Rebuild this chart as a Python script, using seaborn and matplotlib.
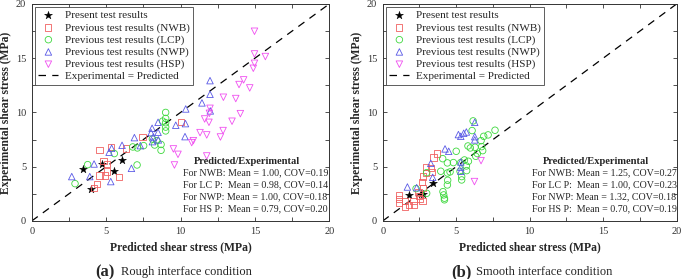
import numpy as np
import pandas as pd
import matplotlib
matplotlib.use("Agg")
import matplotlib.pyplot as plt
import seaborn as sns

# (a) rough interface: predicted (x) vs experimental (y), MPa
rough_present_x = [3.47, 4.70, 6.09, 5.55, 3.96]
rough_present_y = [4.76, 5.22, 5.59, 4.61, 2.95]
rough_nwb_x = [4.55, 5.35, 6.32, 7.44, 10.01, 4.82, 5.08, 5.04, 4.55, 4.93, 5.87, 4.41, 4.21]
rough_nwb_y = [6.54, 6.82, 6.67, 7.74, 9.12, 5.53, 5.25, 4.55, 4.18, 4.18, 4.06, 3.41, 3.07]
rough_lcp_x = [3.76, 2.91, 5.55, 7.08, 6.79, 7.10, 7.52, 8.26, 8.69, 8.69, 8.40, 8.11,
               9.00, 9.00, 9.00, 9.00, 9.00, 8.80]
rough_lcp_y = [5.19, 3.44, 6.21, 5.16, 6.82, 6.73, 6.94, 7.00, 6.51, 7.05, 7.40, 7.55,
               10.0, 9.45, 9.05, 8.65, 8.30, 9.20]
rough_nwp_x = [2.69, 3.90, 4.19, 5.31, 5.20, 5.37, 6.07, 6.70, 6.90, 7.30, 8.02, 8.09,
               8.49, 8.49, 8.51, 8.11, 9.68, 10.33, 10.30, 10.35, 11.44, 11.98, 11.98, 12.00, 8.17]
rough_nwp_y = [4.09, 4.09, 5.25, 3.63, 6.33, 6.70, 6.97, 4.85, 7.68, 6.94, 8.14, 8.54,
               9.09, 8.17, 7.47, 7.31, 8.82, 8.97, 7.77, 10.32, 10.88, 11.67, 12.93, 10.14, 7.74]
rough_hsp_x = [14.97, 14.97, 15.70, 14.97, 14.89, 14.24, 13.93, 14.65, 12.88, 13.71, 11.98,
               11.94, 11.62, 11.91, 14.02, 13.46, 12.86, 12.68, 11.76, 11.31, 10.86, 10.75,
               9.52, 9.83, 11.76, 9.59]
rough_hsp_y = [17.48, 15.39, 15.15, 14.53, 14.07, 13.00, 12.57, 12.26, 11.40, 11.28, 10.38,
               9.92, 9.40, 9.09, 9.89, 9.19, 8.33, 7.74, 7.93, 8.14, 7.40, 7.22,
               6.64, 6.14, 5.99, 5.16]

# (b) smooth interface
smooth_present_x = [1.81, 2.62, 2.77, 3.45]
smooth_present_y = [2.40, 2.45, 2.52, 3.50]
smooth_nwb_x = [1.13, 1.13, 1.13, 1.52, 1.54, 1.81, 2.09, 2.15, 2.47, 2.54, 2.70, 2.43,
                2.72, 2.65, 2.72, 2.95, 2.95, 3.33, 3.29, 3.45, 3.67]
smooth_nwb_y = [2.40, 2.00, 1.63, 1.81, 1.32, 1.47, 1.84, 1.47, 2.30, 2.06, 1.84, 2.70,
                3.07, 3.59, 4.09, 4.45, 5.00, 4.52, 4.88, 5.84, 6.21]
smooth_lcp_x = [2.27, 2.99, 2.99, 3.95, 4.10, 4.15, 4.20, 4.20, 4.08, 4.40, 4.40, 4.58,
                4.42, 4.40, 5.00, 4.81, 5.31, 5.26, 5.37, 5.37, 5.56, 5.69, 5.83, 5.71,
                5.80, 5.96, 6.08, 6.15, 6.33, 6.28, 6.44, 6.69, 6.80, 6.87, 7.17, 7.64, 6.73]
smooth_lcp_y = [2.98, 4.45, 2.55, 4.58, 2.70, 2.40, 2.10, 1.95, 5.74, 5.35, 4.42, 4.52,
                3.75, 3.32, 6.42, 5.38, 5.38, 4.58, 3.78, 4.09, 5.62, 5.07, 5.50, 4.64,
                6.91, 6.73, 8.33, 9.22, 5.96, 6.79, 6.21, 7.40, 6.48, 7.80, 7.93, 8.36, 6.85]
smooth_nwp_x = [1.68, 2.31, 3.27, 3.40, 4.24, 4.49, 5.15, 5.31, 5.51, 5.69, 6.26, 6.26,
                6.26, 5.31, 5.31, 5.31]
smooth_nwp_y = [3.13, 3.07, 5.31, 4.02, 6.64, 6.42, 7.96, 7.80, 8.08, 8.20, 9.09, 7.77,
                7.47, 5.44, 4.58, 4.95]
smooth_hsp_x = [6.69, 6.24]
smooth_hsp_y = [5.56, 3.63]

series_labels = ["Present test results", "Previous test results (NWB)",
                 "Previous test results (LCP)", "Previous test results (NWP)",
                 "Previous test results (HSP)"]
stat_names = ["For NWB: ", "For LC P:  ", "For NWP: ", "For HS P:  "]
rough_mean = [1.00, 0.98, 1.00, 0.79]
rough_cov = [0.19, 0.14, 0.18, 0.20]
smooth_mean = [1.25, 1.00, 1.32, 0.70]
smooth_cov = [0.27, 0.23, 0.18, 0.19]

colors = ["black", "#f06060", "#3ed83e", "#5a5ae6", "#f050f0"]
markers = ["*", "s", "o", "^", "v"]
sizes = [36, 20, 22, 22, 22]

sns.set_style("ticks")
plt.rcParams["font.family"] = ["Liberation Serif", "DejaVu Serif"]

fig = plt.figure(figsize=(6.85, 2.79), dpi=100)
ax1 = fig.add_axes([0.0463, 0.208, 0.4345, 0.778])
ax2 = fig.add_axes([0.5587, 0.208, 0.4292, 0.778])

panels = [
    (ax1, [(rough_present_x, rough_present_y), (rough_nwb_x, rough_nwb_y),
           (rough_lcp_x, rough_lcp_y), (rough_nwp_x, rough_nwp_y), (rough_hsp_x, rough_hsp_y)],
     rough_mean, rough_cov),
    (ax2, [(smooth_present_x, smooth_present_y), (smooth_nwb_x, smooth_nwb_y),
           (smooth_lcp_x, smooth_lcp_y), (smooth_nwp_x, smooth_nwp_y), (smooth_hsp_x, smooth_hsp_y)],
     smooth_mean, smooth_cov),
]

for ax, data, means, covs in panels:
    for i, (xs, ys) in enumerate(data):
        df = pd.DataFrame({"x": xs, "y": ys})
        if i == 0:
            sns.scatterplot(data=df, x="x", y="y", ax=ax, marker=markers[i], s=sizes[i],
                            color="black", edgecolor="black", linewidth=0.3,
                            label=series_labels[i], zorder=3)
        else:
            sns.scatterplot(data=df, x="x", y="y", ax=ax, marker=markers[i], s=sizes[i],
                            facecolor="none", edgecolor=colors[i], linewidth=0.6,
                            label=series_labels[i], zorder=3)
    ax.plot([0, 20], [0, 20], color="black", ls=(0, (6, 5)), lw=0.9,
            label="Experimental = Predicted", zorder=2)

    ax.set_xlim(0, 20)
    ax.set_ylim(0, 20)
    ax.set_xticks([0, 5, 10, 15, 20])
    ax.set_yticks([0, 5, 10, 15, 20])
    ax.set_xticks(np.arange(0, 20.1, 2.5), minor=True)
    ax.set_yticks(np.arange(0, 20.1, 2.5), minor=True)
    ax.tick_params(which="both", direction="in", top=True, right=True,
                   length=3, width=0.6, labelsize=7.5, pad=4, colors="#333333")
    for sp in ax.spines.values():
        sp.set_linewidth(0.7)
        sp.set_color("#333333")
    ax.set_xlabel("Predicted shear stress (MPa)", fontsize=8.4, fontweight="bold", labelpad=4)
    ax.set_ylabel("Experimental shear stress (MPa)", fontsize=8.4, fontweight="bold", labelpad=3)

    leg = ax.legend(loc="upper left", fontsize=8, frameon=True, fancybox=False,
                    edgecolor="#444444", framealpha=1, borderpad=0.3, labelspacing=0.2,
                    handlelength=1.8, handletextpad=0.6, borderaxespad=0.3)
    leg.get_frame().set_linewidth(0.6)

    ax.text(14.5, 5.45, "Predicted/Experimental", fontsize=7.6, fontweight="bold",
            ha="center", va="center")
    for k in range(4):
        ax.text(10.15, 4.4 - 1.1 * k,
                f"{stat_names[k]}Mean = {means[k]:.2f}, COV={covs[k]:.2f}",
                fontsize=7.2, ha="left", va="center")

fig.text(95 / 685, 1 - 272 / 279, "(a)", fontsize=12, fontweight="bold", ha="left", va="center")
fig.text(121 / 685, 1 - 272 / 279, "Rough interface condition", fontsize=9, ha="left", va="center")
fig.text(451 / 685, 1 - 272 / 279, "(b)", fontsize=12, fontweight="bold", ha="left", va="center")
fig.text(476 / 685, 1 - 272 / 279, "Smooth interface condition", fontsize=9, ha="left", va="center")

fig.savefig("out.png", dpi=100)
